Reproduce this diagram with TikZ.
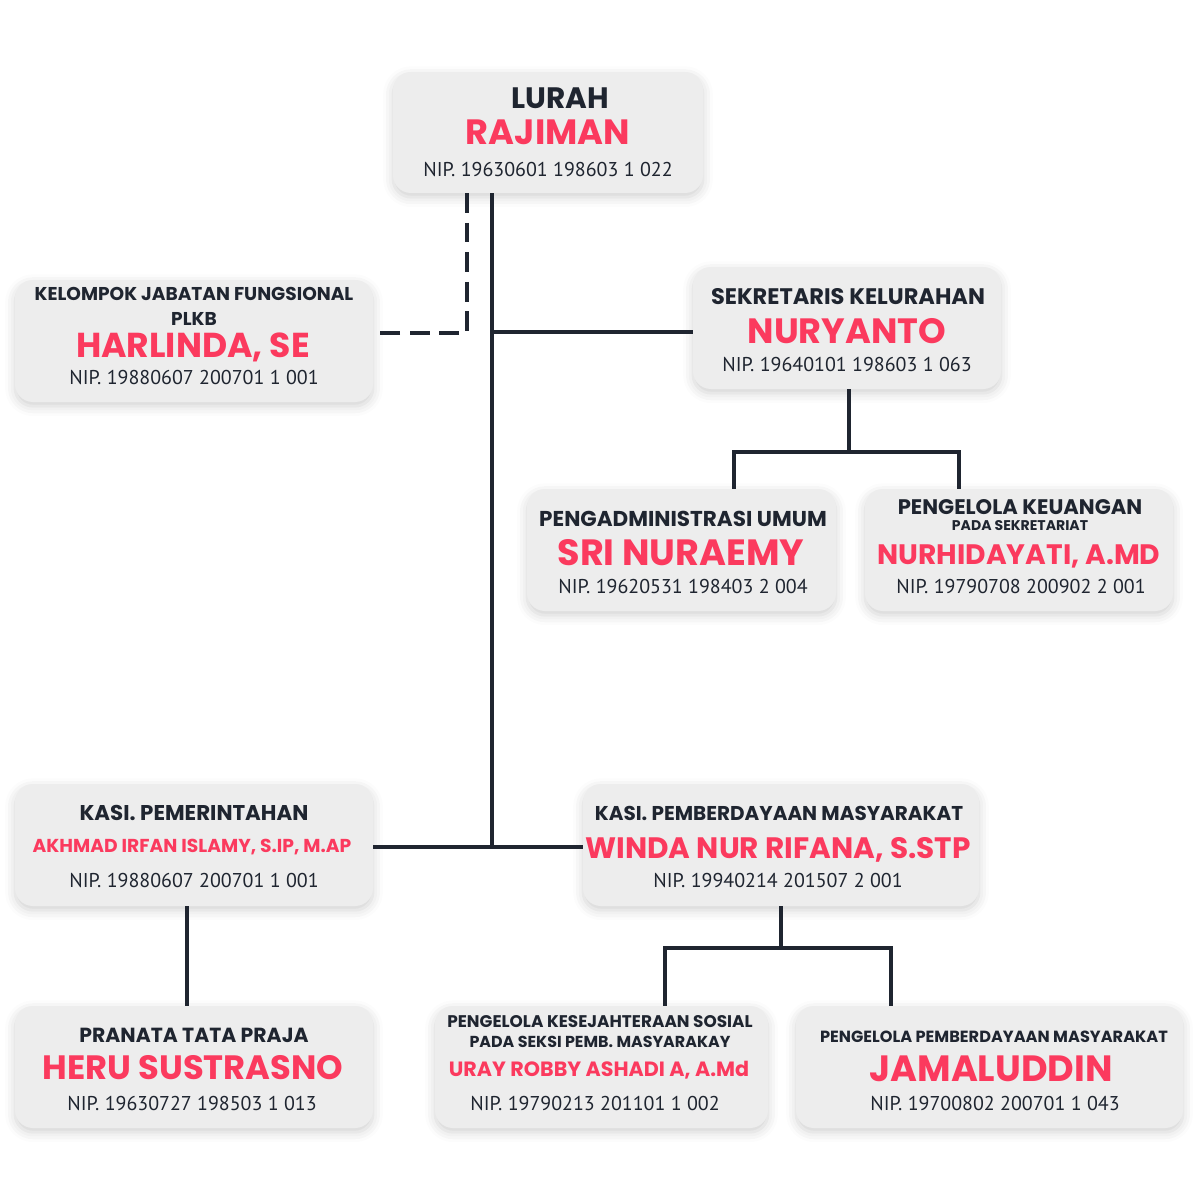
\documentclass[tikz,border=0pt]{standalone}
\usepackage{fontspec}
\setmainfont{Poppins}
\newfontfamily\nipfont{PT Sans}
\usetikzlibrary{positioning,shadows.blur}
\definecolor{ink}{HTML}{1F2530}
\definecolor{merah}{HTML}{FB3A5E}
\definecolor{abu}{HTML}{EDEDED}
\tikzset{
	kotak/.style 2 args={fill=abu, rounded corners=12.8pt, minimum width=#1*0.025cm, minimum height=#2*0.025cm,
		blur shadow={shadow xshift=0pt, shadow yshift=-3pt, shadow blur radius=7pt, shadow opacity=18}},
	jab/.style={text=ink, font=\fontsize{#1}{#1}\selectfont\bfseries, inner sep=0pt},
	nama/.style={text=merah, font=\fontsize{#1}{#1}\selectfont\bfseries, inner sep=0pt},
	nip/.style={text=ink, font=\nipfont\fontsize{#1}{#1}\selectfont, inner sep=0pt},
	garis/.style={draw=ink, line width=3pt},
	putus/.style={garis, dash pattern=on 14pt off 7pt},
}
\begin{document}
\begin{tikzpicture}[x=0.025cm, y=-0.025cm]
	\useasboundingbox (0,0) rectangle (1200,1200);
	%% kotak jabatan
	\node[kotak={310}{121}] (lurah) at (548,132.5) {};
	\node[kotak={358}{122}] (plkb) at (194,341) {};
	\node[kotak={308}{122}] (sekre) at (847,328) {};
	\node[kotak={309}{122}] (umum) at (681.5,550) {};
	\node[kotak={308}{122}] (keu) at (1019,550) {};
	\node[kotak={358}{122}] (kpem) at (194,845) {};
	\node[kotak={396}{122}] (kpm) at (781,845) {};
	\node[kotak={358}{122}] (praja) at (194,1067) {};
	\node[kotak={333}{122}] (kesos) at (601.5,1067) {};
	\node[kotak={387}{122}] (pmas) at (989.5,1067) {};
	%% lurah
	\node[jab=21] (lurah-j) at (560,98) {LURAH};
	\node[nama=25] (lurah-n) at (548,132) {RAJIMAN};
	\node[nip=14.2] (lurah-p) at (548,170) {NIP. 19630601 198603 1 022};
	%% kelompok jabatan fungsional
	\node[jab=13.2] (plkb-j) at (194,294) {KELOMPOK JABATAN FUNGSIONAL};
	\node[jab=13.2] (plkb-j2) at (194,319) {PLKB};
	\node[nama=24.6] (plkb-n) at (193,347) {HARLINDA, SE};
	\node[nip=14.2] (plkb-p) at (194,378) {NIP. 19880607 200701 1 001};
	%% sekretaris
	\node[jab=16] (sekre-j) at (848,297) {SEKRETARIS KELURAHAN};
	\node[nama=25] (sekre-n) at (847,331) {NURYANTO};
	\node[nip=14.2] (sekre-p) at (847,365) {NIP. 19640101 198603 1 063};
	%% pengadministrasi umum
	\node[jab=15.3] (umum-j) at (683,519) {PENGADMINISTRASI UMUM};
	\node[nama=26] (umum-n) at (681,553) {SRI NURAEMY};
	\node[nip=14.2] (umum-p) at (683,587) {NIP. 19620531 198403 2 004};
	%% pengelola keuangan
	\node[jab=15] (keu-j) at (1020,507) {PENGELOLA KEUANGAN};
	\node[jab=10] (keu-j2) at (1020,526) {PADA SEKRETARIAT};
	\node[nama=20] (keu-n) at (1019,556) {NURHIDAYATI, A.MD};
	\node[nip=14.2] (keu-p) at (1021,587) {NIP. 19790708 200902 2 001};
	%% kasi pemerintahan
	\node[jab=15.2] (kpem-j) at (194,813) {KASI. PEMERINTAHAN};
	\node[nama=13.3] (kpem-n) at (192,847) {AKHMAD IRFAN ISLAMY, S.IP, M.AP};
	\node[nip=14.2] (kpem-p) at (194,881) {NIP. 19880607 200701 1 001};
	%% kasi pemberdayaan masyarakat
	\node[jab=14.2] (kpm-j) at (779,813) {KASI. PEMBERDAYAAN MASYARAKAT};
	\node[nama=21] (kpm-n) at (778,850) {WINDA NUR RIFANA, S.STP};
	\node[nip=14.2] (kpm-p) at (778,881) {NIP. 19940214 201507 2 001};
	%% pranata tata praja
	\node[jab=14.5] (praja-j) at (194,1035) {PRANATA TATA PRAJA};
	\node[nama=24] (praja-n) at (193,1068) {HERU SUSTRASNO};
	\node[nip=14.2] (praja-p) at (192,1103) {NIP. 19630727 198503 1 013};
	%% pengelola kesejahteraan sosial
	\node[jab=12] (kesos-j) at (600,1022) {PENGELOLA KESEJAHTERAAN SOSIAL};
	\node[jab=11.3] (kesos-j2) at (600,1042) {PADA SEKSI PEMB. MASYARAKAY};
	\node[nama=14.7] (kesos-n) at (599,1070) {URAY ROBBY ASHADI A, A.Md};
	\node[nip=14.2] (kesos-p) at (595,1103) {NIP. 19790213 201101 1 002};
	%% pengelola pemberdayaan masyarakat
	\node[jab=11.5] (pmas-j) at (994,1037) {PENGELOLA PEMBERDAYAAN MASYARAKAT};
	\node[nama=26] (pmas-n) at (991,1069) {JAMALUDDIN};
	\node[nip=14.2] (pmas-p) at (995,1103) {NIP. 19700802 200701 1 043};
	%% titik cabang
	\coordinate (t-sekre) at (492,332);
	\coordinate (t-kasi) at (492,847);
	\coordinate (t-plkb) at (467,333);
	\coordinate (t-staf) at (849,452);
	\coordinate (t-kpm) at (781,948);
	% garis komando
	\draw[garis] (lurah.south -| t-sekre) -- (t-kasi);
	\draw[garis] (t-sekre) -- (t-sekre -| sekre.west);
	\draw[garis] (kpem.east |- t-kasi) -- (kpm.west |- t-kasi);
	\draw[garis] (sekre.south -| t-staf) -- (t-staf);
	\draw[garis] (umum.north -| 734,0) |- (t-staf) -| (keu.north -| 959,0);
	\draw[garis] (kpem.south -| 187,0) -- (praja.north -| 187,0);
	\draw[garis] (kpm.south) -- (t-kpm);
	\draw[garis] (kesos.north -| 665,0) |- (t-kpm) -| (pmas.north -| 891,0);
	% garis koordinasi
	\draw[putus] (lurah.south -| t-plkb) -- (t-plkb) -- (plkb.east |- t-plkb);
\end{tikzpicture}
\end{document}
